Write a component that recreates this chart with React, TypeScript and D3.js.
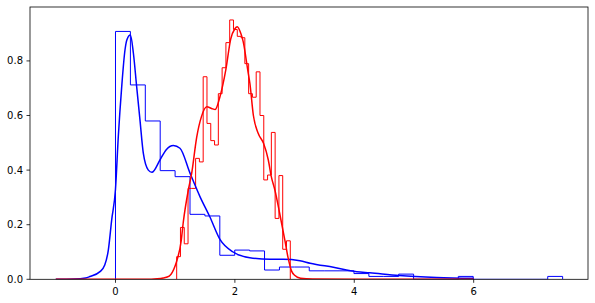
import React from 'react';
import * as d3 from 'd3';

// histogram bin heights (density)
const blueHistRange = [0, 7.49];
const blueHist = [
  0.908, 0.712, 0.58, 0.398, 0.376, 0.238, 0.232, 0.088, 0.107, 0.104,
  0.034, 0.045, 0.045, 0.031, 0.031, 0.031, 0.021, 0.0106, 0.0106, 0.019,
  0, 0, 0, 0.0106, 0, 0, 0, 0, 0, 0.0106,
];

const redHistRange = [1.025, 2.928];
const redHist = [
  0.083, 0.19, 0.13, 0.333, 0.333, 0.443, 0.43, 0.742, 0.571, 0.508,
  0.492, 0.68, 0.775, 0.867, 0.95, 0.915, 0.89, 0.885, 0.79, 0.68,
  0.667, 0.76, 0.6, 0.364, 0.382, 0.538, 0.223, 0.38, 0.11, 0.141,
];

// kde curves
const blueKdeX = [
  -1.0, -0.7, -0.5, -0.43, -0.26, -0.18, -0.12, -0.064, 0.0, 0.047, 0.104, 0.159,
  0.19, 0.25, 0.3, 0.355, 0.41, 0.466, 0.55, 0.61, 0.745, 0.85, 0.97, 1.08, 1.25,
  1.415, 1.58, 1.75, 1.97, 2.25, 2.59, 2.81, 3.09, 3.26, 3.65, 4.04, 4.26, 4.75,
  5.38, 6.0,
];
const blueKdeY = [
  0.0, 0.001, 0.005, 0.01, 0.028, 0.052, 0.107, 0.217, 0.33, 0.522, 0.705, 0.84,
  0.877, 0.895, 0.828, 0.705, 0.584, 0.462, 0.4, 0.392, 0.437, 0.475, 0.49, 0.48, 0.388,
  0.303, 0.229, 0.146, 0.1, 0.079, 0.073, 0.073, 0.068, 0.059, 0.044, 0.028, 0.024, 0.014,
  0.007, 0.004,
];

const redKdeX = [
  -1.0, 0.5, 0.7, 0.8, 0.9, 1.0, 1.03, 1.1, 1.136, 1.22, 1.276, 1.36, 1.44, 1.53,
  1.61, 1.67, 1.75, 1.85, 1.93, 2.0, 2.04, 2.1, 2.14, 2.22, 2.25, 2.31, 2.39, 2.48,
  2.56, 2.61, 2.67, 2.75, 2.84, 2.89, 2.95, 3.0, 3.1, 3.3, 4.0, 6.0,
];
const redKdeY = [
  0, 0, 0.002, 0.005, 0.012, 0.05, 0.07, 0.14, 0.21, 0.327, 0.388, 0.52, 0.596, 0.632,
  0.626, 0.622, 0.669, 0.77, 0.88, 0.918, 0.925, 0.9, 0.87, 0.76, 0.72, 0.6, 0.535, 0.498,
  0.437, 0.376, 0.327, 0.242, 0.14, 0.08, 0.03, 0.015, 0.004, 0.001, 0, 0,
];

const xTicks = [0, 2, 4, 6];
const yTicks = [0, 0.2, 0.4, 0.6, 0.8];

const W = 595;
const H = 303;
const margin = { left: 30, right: 7, top: 7, bottom: 23.7 };

function stepPath(values: number[], range: number[], x: any, y: any) {
  const w = (range[1] - range[0]) / values.length;
  let p = `M${x(range[0])},${y(0)}`;
  values.forEach((v, i) => {
    const x0 = x(range[0] + i * w);
    const x1 = x(range[0] + (i + 1) * w);
    p += `L${x0},${y(v)}L${x1},${y(v)}`;
  });
  p += `L${x(range[1])},${y(0)}`;
  return p;
}

const App = () => {
  const x = d3.scaleLinear().domain([-1.432, 7.915]).range([margin.left, W - margin.right]);
  const y = d3.scaleLinear().domain([0, 0.9975]).range([H - margin.bottom, margin.top]);

  const line = d3.line<[number, number]>()
    .x(d => x(d[0]))
    .y(d => y(d[1]))
    .curve(d3.curveMonotoneX);

  const blueKde = line(blueKdeX.map((v, i) => [v, blueKdeY[i]]) as [number, number][]);
  const redKde = line(redKdeX.map((v, i) => [v, redKdeY[i]]) as [number, number][]);

  const x0 = margin.left;
  const x1 = W - margin.right;
  const yb = H - margin.bottom;
  const yt = margin.top;
  const font = 'DejaVu Sans, sans-serif';

  return (
    <svg width={W} height={H} style={{ position: 'absolute', left: 0, top: 0 }}>
      <rect x={0} y={0} width={W} height={H} fill="#fff" />
      <defs>
        <clipPath id="plot">
          <rect x={x0} y={yt} width={x1 - x0} height={yb - yt} />
        </clipPath>
      </defs>
      <g clipPath="url(#plot)" fill="none">
        <path d={stepPath(blueHist, blueHistRange, x, y)} stroke="#0000ff" strokeWidth={1} />
        <path d={stepPath(redHist, redHistRange, x, y)} stroke="#ff0000" strokeWidth={1} />
        <path d={blueKde ?? ''} stroke="#0000ff" strokeWidth={1.5} />
        <path d={redKde ?? ''} stroke="#ff0000" strokeWidth={1.5} />
      </g>
      <rect x={x0} y={yt} width={x1 - x0} height={yb - yt} fill="none" stroke="#000" strokeWidth={0.8} />
      {xTicks.map(t => (
        <g key={'x' + t}>
          <line x1={x(t)} x2={x(t)} y1={yb} y2={yb + 3.5} stroke="#000" strokeWidth={0.8} />
          <text x={x(t)} y={yb + 16} textAnchor="middle" fontSize={10} fontFamily={font} fill="#000">
            {t}
          </text>
        </g>
      ))}
      {yTicks.map(t => (
        <g key={'y' + t}>
          <line x1={x0 - 3.5} x2={x0} y1={y(t)} y2={y(t)} stroke="#000" strokeWidth={0.8} />
          <text x={x0 - 7} y={y(t)} dy="0.35em" textAnchor="end" fontSize={10} fontFamily={font} fill="#000">
            {t.toFixed(1)}
          </text>
        </g>
      ))}
    </svg>
  );
};

export default App;
